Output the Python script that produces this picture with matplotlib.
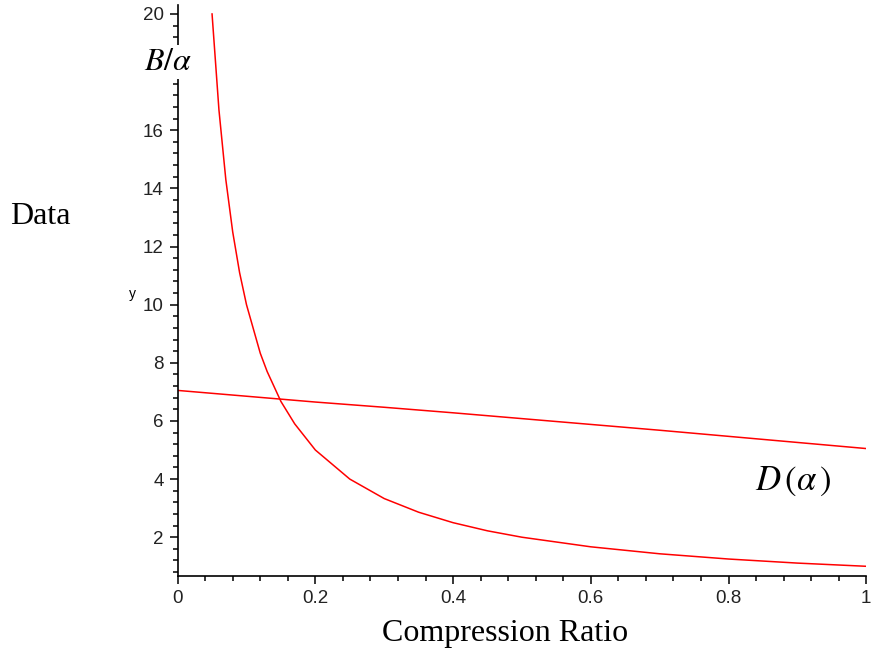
import matplotlib
matplotlib.use("Agg")
import matplotlib.pyplot as plt
from matplotlib.ticker import MultipleLocator

# Lower curve B/alpha
b_x = [0.05, 0.06, 0.07, 0.08, 0.09, 0.10, 0.12, 0.13, 0.15, 0.17, 0.20, 0.25, 0.30,
       0.35, 0.40, 0.45, 0.50, 0.60, 0.70, 0.80, 0.90, 1.00]
b_y = [20.0, 16.7, 14.3, 12.5, 11.1, 10.0, 8.33, 7.7, 6.67, 5.9, 5.0, 4.0, 3.33,
       2.86, 2.5, 2.22, 2.0, 1.67, 1.43, 1.25, 1.11, 1.0]

# Upper curve D(alpha)
d_x = [0.0, 0.1, 0.2, 0.3, 0.4, 0.5, 0.6, 0.7, 0.8, 0.9, 1.0]
d_y = [7.05, 6.85, 6.65, 6.47, 6.28, 6.08, 5.88, 5.68, 5.47, 5.26, 5.05]

x_ticks = [0, 0.2, 0.4, 0.6, 0.8, 1]
x_ticklabels = ["0", "0.2", "0.4", "0.6", "0.8", "1"]
y_ticks = [2, 4, 6, 8, 10, 12, 14, 16, 20]

fig = plt.figure(figsize=(8.75, 6.54), dpi=100)
ax = fig.add_axes([0.203, 0.119, 0.787, 0.873])

ax.plot(b_x, b_y, color="#ff0000", lw=1.1)
ax.plot(d_x, d_y, color="#ff0000", lw=1.1)

ax.set_xlim(0, 1.0)
ax.set_ylim(0.66, 20.3)
for s in ["top", "right"]:
    ax.spines[s].set_visible(False)
ax.spines["left"].set_linewidth(1.2)
ax.spines["bottom"].set_linewidth(1.2)

ax.set_xticks(x_ticks)
ax.set_xticklabels(x_ticklabels)
ax.xaxis.set_minor_locator(MultipleLocator(0.04))
ax.set_yticks(y_ticks)
ax.yaxis.set_minor_locator(MultipleLocator(0.4))
ax.tick_params(which="major", length=6, width=1.1, labelsize=13.5, pad=4,
               labelfontfamily="Liberation Sans", labelcolor="#222222")
ax.tick_params(which="minor", length=3.5, width=1.1)

ax.text(-0.065, 10.35, "y", fontsize=10, family="Liberation Sans", ha="center", va="center")

fig.text(10/875, 1-217/654, "Data", fontsize=23, family="Liberation Serif", va="center", ha="left")
fig.text(505/875, 1-633/654, "Compression Ratio", fontsize=23, family="Liberation Serif",
         va="center", ha="center")
fig.text(168/875, 1-62/654, r"$B/\alpha$", fontsize=23, va="center", ha="center",
         math_fontfamily="stix",
         bbox=dict(facecolor="white", edgecolor="none", pad=1))
fig.text(793/875, 1-481/654, r"$D\,(\alpha\,)$", fontsize=25, va="center", ha="center",
         math_fontfamily="stix")

fig.savefig("out.png", dpi=100)
